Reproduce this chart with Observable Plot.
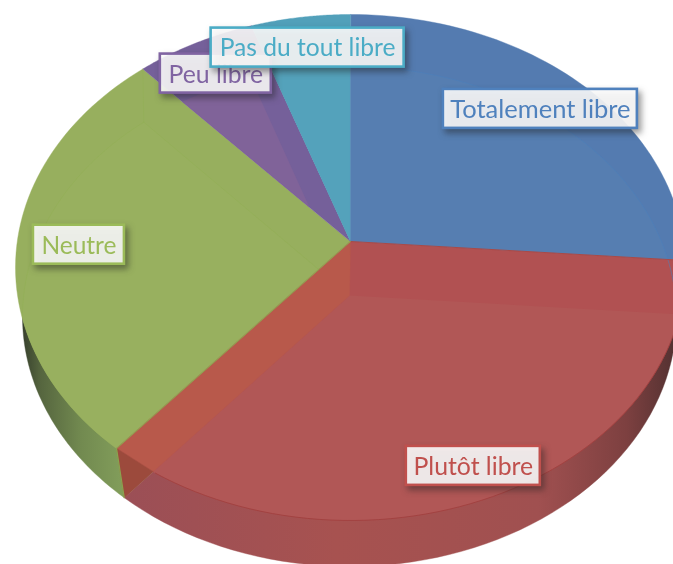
<!DOCTYPE html>
<html><head><meta charset="utf-8">
<style>
html,body{margin:0;padding:0;background:#fff}
g[aria-label="rect"] rect{filter:drop-shadow(3px 4px 3px rgba(30,30,30,.5))}
svg{display:block;filter:blur(.35px)}
</style>
<script src="https://cdn.jsdelivr.net/npm/d3@7"></script>
<script src="https://cdn.jsdelivr.net/npm/@observablehq/plot@0.6"></script>
</head><body><div id="chart"></div>
<script>
// Data
const categories = ["Totalement libre","Plutôt libre","Neutre","Peu libre","Pas du tout libre"];
const values = [26.2, 35.0, 27.1, 6.4, 5.3];

// Styling
const faceColors  = ["#547bb0","#b15152","#97af5e","#75609a","#52a0ba"];
const innerColors = ["#567eb1","#b15756","#98b05f","#806399","#54a2bb"];
const labelColors = ["#4f81bd","#c0504d","#9bbb59","#8064a2","#4bacc6"];
const labelRadius = [0.824,0.8895,0.814,0.837,0.8534];
const labelWidth  = [194,134,91,111,193];
const labelNudge  = [-0.5,-2,0,-2.5,0.5];
const labelFont   = [25.5,24.8,24.5,24.8,24.6];
const labelHeight = 39;

// Perspective disc: top rim and bottom rim of the 3D pie
const rimTop = {cx:350, cy:267, rx:335, ry:253, p:26/253};
const rimBot = {cx:349, cy:316, rx:327, ry:250, p:21/250};
function proj(rim, deg, r=1){
  const t = deg*Math.PI/180, u = r*Math.sin(t), v = -r*Math.cos(t);
  const d = 1 - rim.p*v;
  return {x: rim.cx + rim.rx*Math.sqrt(1-rim.p*rim.p)*u/d, y: rim.cy + rim.ry*(v-rim.p)/d};
}
const apexT = proj(rimTop,0,0), apexB = proj(rimBot,0,0);
const total = d3.sum(values);
const cum = d3.cumsum(values);
const ang = values.map((v,i)=>({a0:(i?cum[i-1]:0)/total*360, a1:cum[i]/total*360}));
const sweep = (a0,a1) => d3.range(0,61).map(i=>a0+(a1-a0)*i/60);
const inside = q => ((q.x-rimTop.cx)/rimTop.rx)**2+((q.y-rimTop.cy)/rimTop.ry)**2 <= 1;
function clipToTop(q){ // walk back along apexB -> q until inside the top rim
  if (inside(q)) return q;
  let lo=0, hi=1;
  for(let i=0;i<30;i++){const m=(lo+hi)/2; const c={x:apexB.x+(q.x-apexB.x)*m,y:apexB.y+(q.y-apexB.y)*m}; inside(c)?lo=m:hi=m;}
  return {x:apexB.x+(q.x-apexB.x)*lo,y:apexB.y+(q.y-apexB.y)*lo};
}
const slice = (rim,a0,a1)=>[proj(rim,0,0),...sweep(a0,a1).map(a=>proj(rim,a))];
// keep only the part of a polygon that lies within a convex clip polygon
function clipConvex(subject, clip){
  const sign = d3.polygonArea(clip.map(q=>[q.x,q.y]))>0?-1:1;
  let out = subject;
  clip.forEach((a,i)=>{
    const b = clip[(i+1)%clip.length];
    const side = q => sign*((b.x-a.x)*(q.y-a.y)-(b.y-a.y)*(q.x-a.x));
    const input = out; out = [];
    input.forEach((p,j)=>{
      const q = input[(j+1)%input.length], sp = side(p), sq = side(q);
      if (sp>=0) out.push(p);
      if ((sp>=0)!==(sq>=0)){const t=sp/(sp-sq); out.push({x:p.x+(q.x-p.x)*t,y:p.y+(q.y-p.y)*t});}
    });
  });
  return out;
}
const poly = (pts,fill,o={}) => Plot.line(pts,{x:"x",y:"y",fill,stroke:fill,strokeWidth:.4,curve:"linear-closed",...o});
const stroke = (pts,color,w=1,op=1) => Plot.line(pts,{x:"x",y:"y",stroke:color,strokeWidth:w,strokeOpacity:op,curve:"linear"});

const gradients = () => {
  const defs = d3.create("svg:defs");
  const mk = (id,stops) => {
    const g = defs.append("linearGradient").attr("id",id).attr("gradientUnits","userSpaceOnUse")
      .attr("x1",0).attr("x2",673).attr("y1",0).attr("y2",0);
    stops.forEach(([o,c])=>g.append("stop").attr("offset",o).attr("stop-color",c));
  };
  mk("wallRed",[[.18,"#9b4f56"],[.5,"#a75250"],[.8,"#a05050"],[.93,"#7d4040"],[1,"#553232"]]);
  mk("wallGreen",[[.025,"#2f3628"],[.06,"#56663f"],[.12,"#728a50"],[.19,"#84a05c"]]);
  return defs.node();
};

const [blue,red,green,purple,teal] = ang;
const greenTop = slice(rimTop,green.a0,green.a1);
const marks = [
  gradients,
  // walls
  poly(slice(rimBot,green.a0,green.a0+70),"url(#wallGreen)"),
  poly(slice(rimBot,red.a0,red.a1),"url(#wallRed)"),
  // top faces with the lighter floor seen through them
  ...ang.map((s,i)=>poly(slice(rimTop,s.a0,s.a1),faceColors[i])),
  ...ang.map((s,i)=>poly(clipConvex(slice(rimBot,s.a0,s.a1),slice(rimTop,s.a0,s.a1)),innerColors[i],{strokeWidth:0})),
  // radial wall of the red slice, left of the centre line
  poly([apexT,apexB,clipToTop(proj(rimBot,red.a1)),proj(rimTop,red.a1)],"#b8594b"),
  poly([proj(rimTop,red.a1),proj(rimBot,red.a1),clipToTop(proj(rimBot,red.a1))],"#9c4a3c"),
  // faint edges
  stroke(sweep(blue.a0+6,blue.a1).map(a=>proj(rimBot,a)),"#4a7fbb",1,.55),
  stroke(sweep(green.a0+45,green.a1).map(a=>proj(rimBot,a)),"#8fb050",1,.35),
  stroke([proj(rimTop,green.a1),proj(rimBot,green.a1)],"#8fb050",1,.35),
  stroke(clipConvex([proj(rimBot,green.a1),apexB],greenTop).slice(0,2),"#8fb050",1,.35),
  stroke(sweep(red.a0+8,red.a1-8).map(a=>proj(rimTop,a)),"#9f3f3d",1,.8),
  stroke([apexT,proj(rimTop,blue.a1)],"#a84a48",1),
  stroke([proj(rimTop,red.a1),apexT],"#8aa850",1,.9),
  stroke([proj(rimTop,red.a1),proj(rimBot,red.a1)],"#8aa850",1.2,.9)
];
categories.forEach((name,i)=>{
  const c0 = proj(rimTop,(ang[i].a0+ang[i].a1)/2,labelRadius[i]);
  const c = {x:c0.x+labelNudge[i],y:c0.y};
  const box = [{x1:c.x-labelWidth[i]/2,x2:c.x+labelWidth[i]/2,y1:c.y-labelHeight/2,y2:c.y+labelHeight/2}];
  marks.push(Plot.rect(box,{x1:"x1",x2:"x2",y1:"y1",y2:"y2",fill:"#fff",fillOpacity:.88,stroke:labelColors[i],strokeWidth:2.6}));
  marks.push(Plot.text([{...c,name}],{x:"x",y:"y",dy:1,text:"name",fill:labelColors[i],fontFamily:"Lato",fontSize:labelFont[i],textAnchor:"middle",lineAnchor:"middle"}));
});

document.getElementById("chart").append(Plot.plot({
  width:673,height:564,margin:0,
  x:{domain:[0,673],range:[0,673],axis:null},
  y:{domain:[0,564],range:[0,564],axis:null},
  style:{background:"#fff",overflow:"hidden"},
  marks
}));
</script></body></html>
